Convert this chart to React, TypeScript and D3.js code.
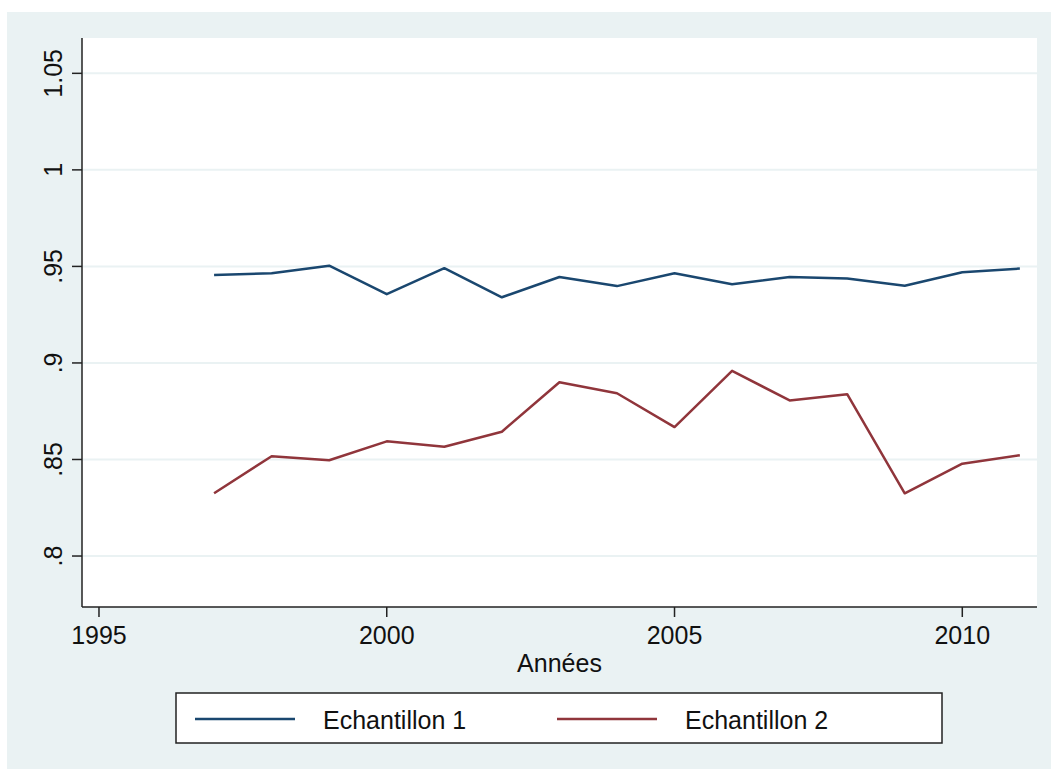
import React from "react";
import * as d3 from "d3";

const years = [1997, 1998, 1999, 2000, 2001, 2002, 2003, 2004, 2005, 2006, 2007, 2008, 2009, 2010, 2011];
const echantillon1 = [0.9455, 0.9465, 0.9504, 0.9356, 0.9491, 0.934, 0.9445, 0.9398, 0.9465, 0.9408, 0.9445, 0.9437, 0.940, 0.947, 0.9489];
const echantillon2 = [0.8325, 0.8517, 0.8496, 0.8594, 0.8566, 0.8644, 0.890, 0.8843, 0.8668, 0.8959, 0.8806, 0.8838, 0.8325, 0.8478, 0.8522];
const xTicks = [1995, 2000, 2005, 2010];
const yTicks = [0.8, 0.85, 0.9, 0.95, 1, 1.05];
const yTickLabels = [".8", ".85", ".9", ".95", "1", "1.05"];
const seriesNames = ["Echantillon 1", "Echantillon 2"];
const xTitle = "Années";

const W = 1051;
const H = 769;
const plot = { left: 82, right: 1037, top: 38, bottom: 607 };
const colors = ["#1A476F", "#90353B"];
const bg = "#EAF2F3";
const font = "'Liberation Sans', Arial, Helvetica, sans-serif";

export default function App() {
  const x = d3.scaleLinear().domain([1994.705, 2011.298]).range([plot.left, plot.right]);
  const y = d3.scaleLinear().domain([0.7736, 1.0683]).range([plot.bottom, plot.top]);
  const line = d3
    .line<[number, number]>()
    .x((d) => x(d[0]))
    .y((d) => y(d[1]));
  const series = [echantillon1, echantillon2];

  return (
    <svg
      width={W}
      height={H}
      style={{ position: "absolute", left: 0, top: 0 }}
      fontFamily={font}
    >
      <rect x={0} y={0} width={W} height={H} fill="#ffffff" />
      <rect x={7} y={12} width={W - 7} height={H - 12} fill={bg} />
      <rect
        x={plot.left}
        y={plot.top}
        width={plot.right - plot.left}
        height={plot.bottom - plot.top}
        fill="#ffffff"
      />
      {yTicks.map((t) => (
        <line
          key={"g" + t}
          x1={plot.left}
          x2={plot.right}
          y1={y(t)}
          y2={y(t)}
          stroke={bg}
          strokeWidth={2}
        />
      ))}
      {series.map((s, i) => (
        <path
          key={"s" + i}
          d={line(years.map((yr, j) => [yr, s[j]] as [number, number])) || ""}
          fill="none"
          stroke={colors[i]}
          strokeWidth={2.5}
          strokeLinejoin="round"
        />
      ))}
      {/* axes */}
      <line x1={plot.left} x2={plot.left} y1={plot.top} y2={plot.bottom} stroke="#222" strokeWidth={1.5} />
      <line x1={plot.left} x2={plot.right} y1={plot.bottom} y2={plot.bottom} stroke="#222" strokeWidth={1.5} />
      {yTicks.map((t, i) => (
        <g key={"yt" + t}>
          <line x1={plot.left - 10} x2={plot.left} y1={y(t)} y2={y(t)} stroke="#222" strokeWidth={1.5} />
          <text
            transform={`translate(${plot.left - 20},${y(t)}) rotate(-90)`}
            textAnchor="middle"
            fontSize={25}
            fill="#111"
          >
            {yTickLabels[i]}
          </text>
        </g>
      ))}
      {xTicks.map((t) => (
        <g key={"xt" + t}>
          <line x1={x(t)} x2={x(t)} y1={plot.bottom} y2={plot.bottom + 10} stroke="#222" strokeWidth={1.5} />
          <text x={x(t)} y={644} textAnchor="middle" fontSize={25} fill="#111">
            {t}
          </text>
        </g>
      ))}
      <text x={(plot.left + plot.right) / 2} y={672} textAnchor="middle" fontSize={25} fill="#111">
        {xTitle}
      </text>
      {/* legend */}
      <rect x={176} y={693} width={766} height={50} fill="#ffffff" stroke="#222" strokeWidth={1.5} />
      {seriesNames.map((n, i) => {
        const lx = 195 + i * 362;
        return (
          <g key={"l" + i}>
            <line x1={lx} x2={lx + 100} y1={719} y2={719} stroke={colors[i]} strokeWidth={2.5} />
            <text x={lx + 128} y={729} fontSize={25} fill="#111">
              {n}
            </text>
          </g>
        );
      })}
    </svg>
  );
}
